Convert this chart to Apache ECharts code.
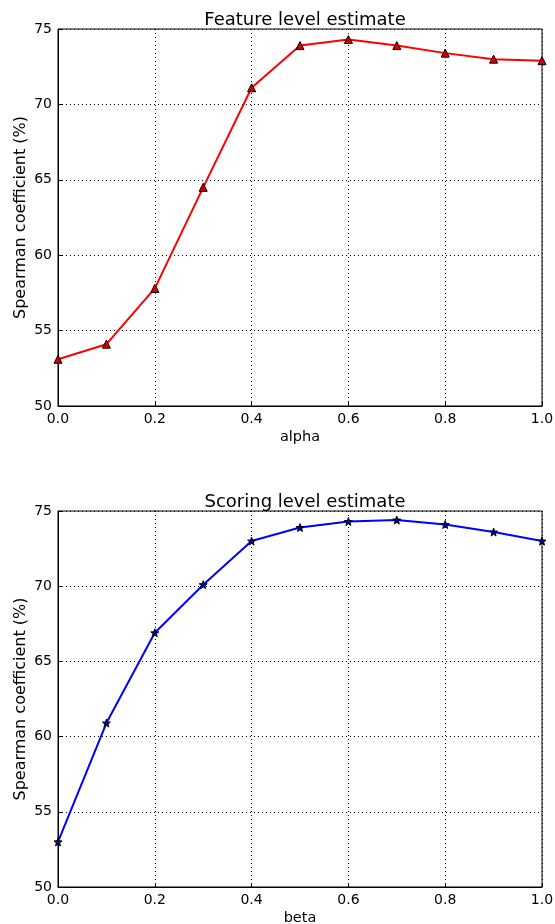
<!DOCTYPE html>
<html>
<head>
<meta charset="utf-8">
<script src="https://cdn.jsdelivr.net/npm/echarts@6/dist/echarts.min.js"></script>
<style>
  html, body { margin: 0; padding: 0; background: #fff; }
  #chart { width: 555px; height: 924px; }
</style>
</head>
<body>
<div id="chart"></div>
<script>
// x positions shared by both panels
const xValues = [0.0, 0.1, 0.2, 0.3, 0.4, 0.5, 0.6, 0.7, 0.8, 0.9, 1.0]
// Feature level estimate (alpha)
const featureValues = [53.1, 54.1, 57.8, 64.5, 71.1, 73.9, 74.3, 73.9, 73.4, 73.0, 72.9]
// Scoring level estimate (beta)
const scoringValues = [53.0, 60.9, 66.9, 70.1, 73.0, 73.9, 74.3, 74.4, 74.1, 73.6, 73.0]

const titles = ['Feature level estimate', 'Scoring level estimate']
const xNames = ['alpha', 'beta']
const yName = 'Spearman coefficient (%)'

const font = 'DejaVu Sans'
const chart = echarts.init(document.getElementById('chart'))

const pairs = (ys) => xValues.map((x, i) => [x, ys[i]])

const grids = [
  { left: 58, top: 29, width: 484, height: 377 },
  { left: 58, top: 511, width: 484, height: 376 },
]

function xAxisFor(i) {
  return {
    type: 'value',
    gridIndex: i,
    min: 0,
    max: 1,
    interval: 0.2,
    name: xNames[i],
    nameLocation: 'middle',
    nameGap: 24,
    nameMoveOverlap: false,
    nameTextStyle: { color: '#000', fontSize: 14.5, fontFamily: font },
    axisLine: { lineStyle: { color: '#000', width: 1 } },
    axisTick: { inside: true, length: 4, lineStyle: { color: '#000' } },
    axisLabel: {
      color: '#000', fontSize: 14, fontFamily: font, margin: 6,
      formatter: (v) => v.toFixed(1),
    },
    splitLine: { show: true, lineStyle: { color: '#000', type: [1, 3], width: 1 } },
  }
}

function yAxisFor(i) {
  return {
    type: 'value',
    gridIndex: i,
    min: 50,
    max: 75,
    interval: 5,
    name: yName,
    nameLocation: 'middle',
    nameGap: 29,
    nameMoveOverlap: false,
    nameTextStyle: { color: '#000', fontSize: 16, fontFamily: font },
    axisLine: { show: true, lineStyle: { color: '#000', width: 1 } },
    axisTick: { inside: true, length: 4, lineStyle: { color: '#000' } },
    axisLabel: { color: '#000', fontSize: 14, fontFamily: font, margin: 6 },
    splitLine: { show: true, lineStyle: { color: '#000', type: [1, 3], width: 1 } },
  }
}

chart.setOption({
  backgroundColor: '#fff',
  animation: false,
  title: [
    {
      text: titles[0], left: 300, top: 6, textAlign: 'center',
      textStyle: { color: '#000', fontSize: 18, fontWeight: 'normal', fontFamily: font },
    },
    {
      text: titles[1], left: 300, top: 488, textAlign: 'center',
      textStyle: { color: '#000', fontSize: 18, fontWeight: 'normal', fontFamily: font },
    },
  ],
  grid: grids.map((g) => ({
    ...g, show: true, borderColor: '#000', borderWidth: 1, outerBoundsMode: 'none',
  })),
  xAxis: [xAxisFor(0), xAxisFor(1)],
  yAxis: [yAxisFor(0), yAxisFor(1)],
  series: [
    {
      type: 'line',
      xAxisIndex: 0,
      yAxisIndex: 0,
      data: pairs(featureValues),
      symbol: 'triangle',
      symbolSize: 8,
      lineStyle: { color: '#ff0000', width: 2 },
      itemStyle: { color: '#d40000', borderColor: '#000', borderWidth: 1 },
      z: 3,
    },
    {
      type: 'line',
      xAxisIndex: 1,
      yAxisIndex: 1,
      data: pairs(scoringValues),
      symbol: 'path://M0,-10 L2.35,-3.24 L9.51,-3.09 L3.8,1.24 L5.88,8.09 L0,4 L-5.88,8.09 L-3.8,1.24 L-9.51,-3.09 L-2.35,-3.24 Z',
      symbolSize: 8,
      lineStyle: { color: '#0000ff', width: 2 },
      itemStyle: { color: '#0000aa', borderColor: '#000', borderWidth: 1 },
      z: 3,
    },
  ],
})
</script>
</body>
</html>
